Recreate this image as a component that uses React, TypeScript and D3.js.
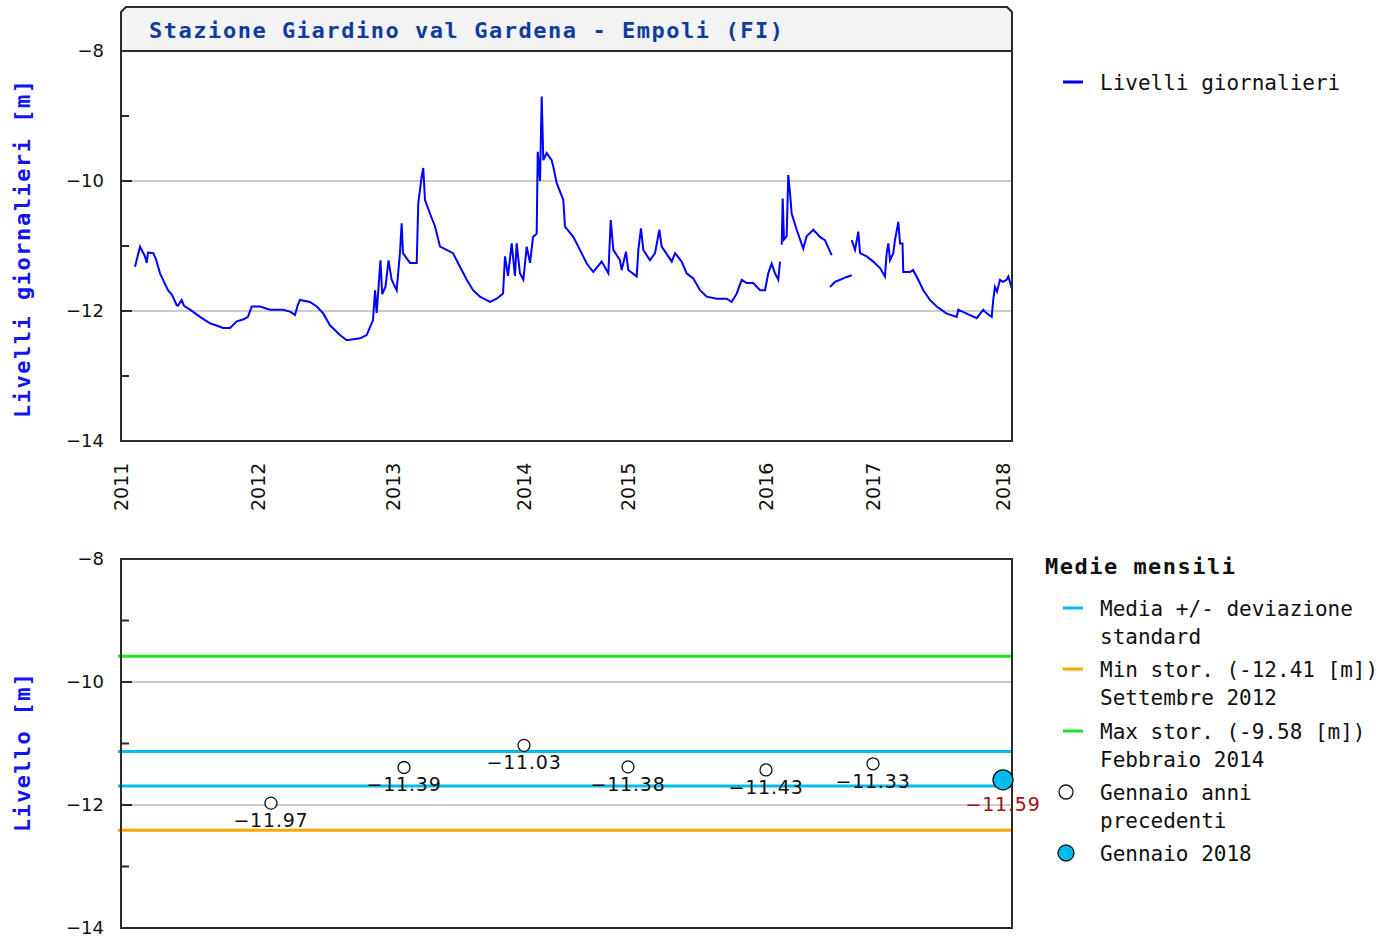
import React from 'react';
import * as d3 from 'd3';

// ---------- DATA ----------
const stationTitle = 'Stazione Giardino val Gardena - Empoli (FI)';
const yearTicks = [2011, 2012, 2013, 2014, 2015, 2016, 2017, 2018];
const levelTicks = [-8, -9, -10, -11, -12, -13, -14];
const levelLabels = [-8, -10, -12, -14];
const gridLevels = [-10, -12];

// daily levels (fractional year, level [m]); null = missing data
const dailyYear = [
  2011.102, 2011.139, 2011.175, 2011.188, 2011.197, 2011.236, 2011.255, 2011.285, 2011.307, 2011.343,
  2011.372, 2011.407, 2011.416, 2011.443, 2011.460, 2011.504, 2011.577, 2011.650, 2011.693, 2011.745,
  2011.796, 2011.845, 2011.891, 2011.927, 2011.954, 2012.015, 2012.089, 2012.185, 2012.237, 2012.274,
  2012.296, 2012.311, 2012.385, 2012.435, 2012.481, 2012.533, 2012.607, 2012.657, 2012.756, 2012.805,
  2012.852, 2012.867, 2012.879, 2012.907, 2012.920, 2012.944, 2012.967, 2012.990, 2013.028, 2013.053,
  2013.066, 2013.076, 2013.130, 2013.181, 2013.193, 2013.219, 2013.231, 2013.244, 2013.282, 2013.321,
  2013.359, 2013.410, 2013.458, 2013.511, 2013.563, 2013.611, 2013.664, 2013.740, 2013.792, 2013.840,
  2013.855, 2013.878, 2013.906, 2013.931, 2013.944, 2013.969, 2013.995, 2014.026, 2014.058, 2014.087,
  2014.122, 2014.132, 2014.154, 2014.170, 2014.186, 2014.218, 2014.266, 2014.282, 2014.314, 2014.378,
  2014.394, 2014.474, 2014.538, 2014.603, 2014.666, 2014.747, 2014.811, 2014.834, 2014.859, 2014.923,
  2014.939, 2014.981, 2015.002, 2015.063, 2015.075, 2015.094, 2015.111, 2015.159, 2015.196, 2015.227,
  2015.244, 2015.292, 2015.317, 2015.341, 2015.389, 2015.425, 2015.473, 2015.522, 2015.570, 2015.643,
  2015.715, 2015.751, 2015.788, 2015.824, 2015.860, 2015.908, 2015.957, 2015.993, 2016.021, 2016.053,
  2016.084, 2016.115, 2016.131, 2016.139,
  2016.147, 2016.156, 2016.168, 2016.193, 2016.208, 2016.224, 2016.240, 2016.287, 2016.348, 2016.380,
  2016.442, 2016.505, 2016.551, 2016.614, 2016.620,
  2016.598, 2016.645, 2016.692, 2016.748, 2016.801, 2016.803,
  2016.801, 2016.832, 2016.863, 2016.879, 2016.941, 2017.002, 2017.054, 2017.092, 2017.105, 2017.118,
  2017.131, 2017.156, 2017.169, 2017.195, 2017.208, 2017.227, 2017.233, 2017.285, 2017.308, 2017.348,
  2017.387, 2017.438, 2017.490, 2017.567, 2017.644, 2017.656, 2017.721, 2017.798, 2017.848, 2017.877,
  2017.913, 2017.925, 2017.938, 2017.954, 2017.977, 2018.000, 2018.028, 2018.041, 2018.067,
];
const dailyLevel: (number | null)[] = [
  -11.32, -11.01, -11.16, -11.26, -11.10, -11.11, -11.20, -11.42, -11.52, -11.68,
  -11.75, -11.91, -11.92, -11.83, -11.92, -11.98, -12.09, -12.19, -12.22, -12.26,
  -12.26, -12.16, -12.13, -12.09, -11.93, -11.93, -11.98, -11.98, -12.01, -12.06,
  -11.90, -11.83, -11.86, -11.93, -12.03, -12.22, -12.37, -12.45, -12.42, -12.37,
  -12.14, -11.68, -12.03, -11.22, -11.74, -11.63, -11.22, -11.52, -11.68, -11.11,
  -10.65, -11.11, -11.26, -11.26, -10.34, -9.93, -9.80, -10.29, -10.50, -10.70,
  -11.01, -11.06, -11.11, -11.32, -11.52, -11.68, -11.78, -11.86, -11.81, -11.73,
  -11.16, -11.46, -10.96, -11.46, -10.96, -11.42, -11.52, -11.01, -11.26, -10.86,
  -10.81, -9.55, -10.00, -8.70, -9.68, -9.57, -9.68, -9.78, -10.03, -10.29,
  -10.70, -10.86, -11.06, -11.27, -11.40, -11.24, -11.42, -10.60, -11.06, -11.22,
  -11.37, -11.09, -11.37, -11.47, -11.06, -10.73, -11.06, -11.22, -11.11, -10.75,
  -11.01, -11.16, -11.24, -11.11, -11.24, -11.42, -11.50, -11.68, -11.78, -11.81,
  -11.81, -11.86, -11.73, -11.52, -11.57, -11.57, -11.68, -11.68, -11.42, -11.27,
  -11.42, -11.52, -11.24, null,
  -10.98, -10.27, -10.90, -10.85, -9.91, -10.18, -10.50, -10.75, -11.04, -10.85,
  -10.75, -10.86, -10.91, -11.14, null,
  -11.63, -11.55, -11.52, -11.48, -11.45, null,
  -10.91, -11.06, -10.78, -11.11, -11.16, -11.24, -11.34, -11.47, -11.11, -10.96,
  -11.22, -11.11, -10.91, -10.63, -10.96, -10.96, -11.40, -11.40, -11.37, -11.52,
  -11.68, -11.83, -11.93, -12.04, -12.09, -11.98, -12.04, -12.11, -11.98, -12.04,
  -12.09, -11.83, -11.63, -11.70, -11.52, -11.55, -11.52, -11.47, -11.65,
];

// January monthly means of previous years
const janYears = [2012.096, 2013.084, 2014.0, 2015.0, 2016.0, 2017.0];
const janLevels = [-11.97, -11.39, -11.03, -11.38, -11.43, -11.33];
const currentYear = 2018.0;
const currentLevel = -11.59;
const janMean = -11.41;
const janStd = 0.28;
const histMin = -12.41;
const histMax = -9.58;

const topLegend = ['Livelli giornalieri'];
const bottomLegendTitle = 'Medie mensili';
const bottomLegendLines = [
  ['Media +/- deviazione', 'standard'],
  ['Min stor. (-12.41 [m])', 'Settembre 2012'],
  ['Max stor. (-9.58 [m])', 'Febbraio 2014'],
  ['Gennaio anni', 'precedenti'],
  ['Gennaio 2018'],
];

// ---------- STYLE ----------
const MONO = '"DejaVu Sans Mono", "Liberation Mono", monospace';
const SANS = '"DejaVu Sans", "Liberation Sans", sans-serif';
const C_LINE = '#0000ff';
const C_AXIS_TITLE = '#1414f0';
const C_TITLE = '#0b3c9e';
const C_MEAN = '#00bbee';
const C_MIN = '#ffa500';
const C_MAX = '#1ee01e';
const C_GRID = '#cccccc';
const C_FRAME = '#2a2a2a';

export default function App() {
  const left = 121;
  const right = 1012;
  const top1 = 51;
  const bottom1 = 441;
  const top2 = 559;
  const bottom2 = 928;

  const x = d3.scaleLinear().domain(yearTicks).range([121, 258, 393, 524, 628, 766, 873, 1003]);
  const y1 = d3.scaleLinear().domain([-14, -8]).range([bottom1, top1]);
  const y2 = d3.scaleLinear().domain([-14, -8]).range([bottom2, top2]);

  const daily = dailyYear.map((t, i) => ({ t, v: dailyLevel[i] }));
  const line = d3
    .line<{ t: number; v: number | null }>()
    .defined((d) => d.v !== null)
    .x((d) => x(d.t))
    .y((d) => y1(d.v as number));

  const yAxis = (ys: d3.ScaleLinear<number, number>) => (
    <g>
      {levelTicks.map((v) => (
        <line
          key={'t' + v}
          x1={left}
          x2={left + (v % 2 === 0 ? 11 : 8)}
          y1={ys(v)}
          y2={ys(v)}
          stroke={C_FRAME}
          strokeWidth={2}
        />
      ))}
      {levelLabels.map((v) => (
        <text
          key={'l' + v}
          x={104}
          y={ys(v)}
          dy="0.36em"
          textAnchor="end"
          fontFamily={SANS}
          fontSize={18}
          fill="#111"
        >
          {'\u2212' + Math.abs(v)}
        </text>
      ))}
    </g>
  );

  const grid = (ys: d3.ScaleLinear<number, number>) =>
    gridLevels.map((v) => (
      <line key={'g' + v} x1={left} x2={right} y1={ys(v)} y2={ys(v)} stroke={C_GRID} strokeWidth={2} />
    ));

  const hline = (v: number, color: string, key: string) => (
    <line key={key} x1={left - 3} x2={right} y1={y2(v)} y2={y2(v)} stroke={color} strokeWidth={3} />
  );

  const fmt = (v: number) => '\u2212' + Math.abs(v).toFixed(2);

  const legX = 1100;
  const legRows = [608, 669, 731, 792, 853];

  return (
    <svg
      width={1397}
      height={942}
      style={{ position: 'absolute', left: 0, top: 0, background: '#fff' }}
    >
      <rect x={0} y={0} width={1397} height={942} fill="#fff" />

      {/* ---------- TOP CHART ---------- */}
      <path
        d={`M${left},${top1} L${left},12 L${left + 5},7 L${right - 5},7 L${right},12 L${right},${top1} Z`}
        fill="#f3f3f3"
        stroke={C_FRAME}
        strokeWidth={2}
      />
      <text
        x={149}
        y={30}
        dy="0.36em"
        fontFamily={MONO}
        fontWeight="bold"
        fontSize={22}
        fill={C_TITLE}
        textLength={634}
        lengthAdjust="spacing"
      >
        {stationTitle}
      </text>
      {grid(y1)}
      <path d={line(daily) || ''} fill="none" stroke={C_LINE} strokeWidth={2} strokeLinejoin="miter" />
      <path
        d={`M${left},${top1} L${left},${bottom1} L${right},${bottom1} L${right},${top1}`}
        fill="none"
        stroke={C_FRAME}
        strokeWidth={2}
      />
      {yAxis(y1)}
      {yearTicks.map((yr) => (
        <text
          key={'yr' + yr}
          transform={`translate(${x(yr)},511) rotate(-90)`}
          dy="0.36em"
          textAnchor="start"
          fontFamily={SANS}
          fontSize={19}
          fill="#111"
        >
          {yr}
        </text>
      ))}
      <text
        transform={`translate(22,${(top1 + bottom1) / 2 + 3}) rotate(-90)`}
        textAnchor="middle"
        dy="0.36em"
        fontFamily={MONO}
        fontWeight="bold"
        fontSize={22}
        fill={C_AXIS_TITLE}
        textLength={338}
        lengthAdjust="spacing"
      >
        Livelli giornalieri [m]
      </text>
      {/* top legend */}
      <line x1={1063} x2={1083} y1={82} y2={82} stroke={C_LINE} strokeWidth={3} />
      <text x={legX} y={82} dy="0.36em" fontFamily={MONO} fontSize={21} fill="#111">
        {topLegend[0]}
      </text>

      {/* ---------- BOTTOM CHART ---------- */}
      {grid(y2)}
      {hline(histMax, C_MAX, 'max')}
      {hline(janMean + janStd, C_MEAN, 'm+')}
      {hline(janMean - janStd, C_MEAN, 'm-')}
      {hline(histMin, C_MIN, 'min')}
      <rect x={left} y={top2} width={right - left} height={bottom2 - top2} fill="none" stroke={C_FRAME} strokeWidth={2} />
      {yAxis(y2)}
      {janYears.map((t, i) => (
        <g key={'jan' + t}>
          <circle cx={x(t)} cy={y2(janLevels[i])} r={6} fill="#fff" stroke="#111" strokeWidth={1.3} />
          <text
            x={x(t)}
            y={y2(janLevels[i]) + 24}
            textAnchor="middle"
            fontFamily={SANS}
            fontSize={19}
            letterSpacing={0.8}
            fill="#111"
          >
            {fmt(janLevels[i])}
          </text>
        </g>
      ))}
      <circle cx={x(currentYear)} cy={y2(currentLevel)} r={10} fill={C_MEAN} stroke="#111" strokeWidth={1.3} />
      <text
        x={x(currentYear)}
        y={y2(currentLevel) + 31}
        textAnchor="middle"
        fontFamily={SANS}
        fontSize={19}
        letterSpacing={0.8}
        fill="#a01010"
      >
        {fmt(currentLevel)}
      </text>
      <text
        transform={`translate(22,${(top2 + bottom2) / 2 + 9}) rotate(-90)`}
        textAnchor="middle"
        dy="0.36em"
        fontFamily={MONO}
        fontWeight="bold"
        fontSize={22}
        fill={C_AXIS_TITLE}
        textLength={159}
        lengthAdjust="spacing"
      >
        Livello [m]
      </text>

      {/* bottom legend */}
      <text
        x={1045}
        y={566}
        dy="0.36em"
        fontFamily={MONO}
        fontWeight="bold"
        fontSize={22}
        fill="#111"
        textLength={190}
        lengthAdjust="spacing"
      >
        {bottomLegendTitle}
      </text>
      {[C_MEAN, C_MIN, C_MAX].map((c, i) => (
        <line key={'lg' + i} x1={1063} x2={1083} y1={legRows[i]} y2={legRows[i]} stroke={c} strokeWidth={3} />
      ))}
      <circle cx={1066} cy={legRows[3]} r={7} fill="#fff" stroke="#111" strokeWidth={1.3} />
      <circle cx={1066} cy={legRows[4]} r={8} fill={C_MEAN} stroke="#111" strokeWidth={1.3} />
      {bottomLegendLines.map((lines, i) =>
        lines.map((s, j) => (
          <text
            key={'lt' + i + '_' + j}
            x={legX}
            y={legRows[i] + j * 28}
            dy="0.36em"
            fontFamily={MONO}
            fontSize={21}
            fill="#111"
          >
            {s}
          </text>
        ))
      )}
    </svg>
  );
}
